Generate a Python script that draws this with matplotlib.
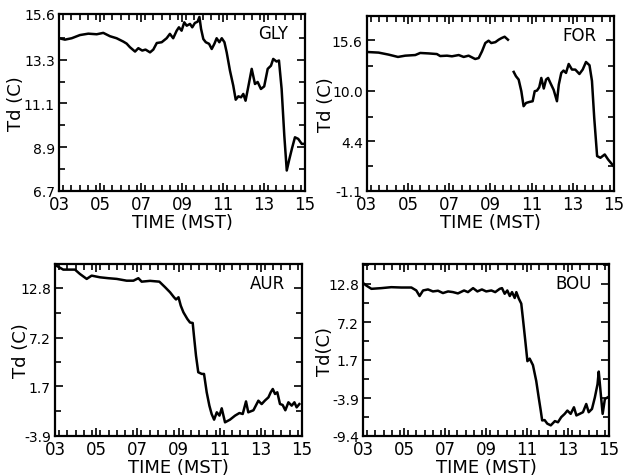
import matplotlib
matplotlib.use('Agg')
import matplotlib.pyplot as plt
import numpy as np
from matplotlib.ticker import FixedLocator, MultipleLocator

# dew point traces, hour (MST) vs Td (C)
gly_hour = [3.0, 3.29, 3.62, 4.02, 4.43, 4.84, 5.16, 5.49, 5.81, 6.14, 6.30, 6.46, 6.71, 6.87,
            7.06, 7.22, 7.44, 7.60, 7.77, 8.01, 8.25, 8.41, 8.57, 8.74, 8.85, 8.98, 9.11, 9.23,
            9.39, 9.50, 9.63, 9.76, 9.85, 9.93, 10.04, 10.16, 10.32, 10.45, 10.58, 10.69, 10.82,
            10.94, 11.07, 11.18, 11.34, 11.50, 11.62, 11.75, 11.88, 11.99, 12.10, 12.23, 12.40,
            12.56, 12.69, 12.85, 13.01, 13.18, 13.34, 13.45, 13.61, 13.73, 13.86, 13.99, 14.11,
            14.22, 14.36, 14.51, 14.67, 14.84, 14.96]
gly_td = [14.38, 14.31, 14.38, 14.54, 14.61, 14.58, 14.65, 14.48, 14.38, 14.21, 14.11, 13.93,
          13.71, 13.88, 13.76, 13.81, 13.67, 13.81, 14.14, 14.18, 14.38, 14.60, 14.38, 14.76,
          14.93, 14.76, 15.18, 15.01, 15.10, 14.93, 15.15, 15.21, 15.45, 14.85, 14.34, 14.18,
          14.10, 13.84, 14.10, 14.38, 14.18, 14.38, 14.18, 13.67, 12.75, 12.00, 11.29, 11.46,
          11.41, 11.58, 11.24, 11.92, 12.84, 12.08, 12.18, 11.83, 11.96, 12.84, 13.00, 13.34,
          13.21, 13.26, 11.83, 9.49, 7.73, 8.23, 8.82, 9.40, 9.32, 9.07, 9.07]

for_hour_a = [3.0, 3.57, 4.05, 4.51, 4.86, 5.35, 5.59, 6.00, 6.40, 6.56, 6.89, 7.13, 7.46, 7.70,
              7.94, 8.26, 8.43, 8.59, 8.75, 8.91, 9.04, 9.24, 9.40, 9.54, 9.69, 9.85]
for_td_a = [14.31, 14.24, 14.02, 13.76, 13.90, 13.97, 14.20, 14.15, 14.08, 13.86, 13.90, 13.83,
            13.97, 13.76, 13.90, 13.53, 13.64, 14.38, 15.30, 15.56, 15.30, 15.40, 15.67, 15.85,
            16.00, 15.67]
for_hour_b = [10.13, 10.24, 10.37, 10.50, 10.61, 10.73, 10.89, 11.05, 11.15, 11.26, 11.37, 11.47,
              11.59, 11.70, 11.80, 11.91, 12.07, 12.23, 12.32, 12.44, 12.55, 12.67, 12.80, 12.96,
              13.12, 13.32, 13.48, 13.64, 13.81, 13.93, 14.04, 14.18, 14.34, 14.55, 14.71, 15.0]
for_td_b = [12.10, 11.62, 11.25, 9.96, 8.30, 8.66, 8.77, 8.85, 9.96, 10.03, 10.40, 11.43, 10.26,
            11.25, 11.43, 10.88, 10.11, 8.85, 10.70, 11.99, 12.25, 11.99, 12.98, 12.36, 12.36,
            11.87, 12.36, 13.20, 12.84, 11.10, 7.00, 2.77, 2.58, 2.95, 2.40, 1.60]

aur_hour = [3.0, 3.40, 3.97, 4.21, 4.54, 4.78, 5.19, 5.59, 6.00, 6.48, 6.81, 7.05, 7.21, 7.62,
            8.07, 8.35, 8.59, 8.78, 8.88, 9.00, 9.11, 9.24, 9.43, 9.56, 9.69, 9.75, 9.85, 9.96,
            10.13, 10.24, 10.37, 10.50, 10.61, 10.73, 10.86, 10.99, 11.10, 11.26, 11.50, 11.75,
            11.96, 12.12, 12.28, 12.39, 12.64, 12.88, 13.04, 13.20, 13.37, 13.48, 13.58, 13.69,
            13.80, 13.93, 14.06, 14.19, 14.34, 14.50, 14.63, 14.74, 14.87]
aur_td = [15.4, 14.87, 14.87, 14.38, 13.82, 14.19, 14.00, 13.90, 13.82, 13.62, 13.62, 13.90,
          13.51, 13.60, 13.51, 12.88, 12.31, 11.75, 11.50, 11.75, 10.80, 10.05, 9.30, 8.90, 8.85,
          7.42, 5.16, 3.29, 3.10, 3.10, 1.03, -0.48, -1.42, -2.06, -1.23, -1.60, -0.78, -2.36,
          -2.06, -1.60, -1.31, -1.42, 0.00, -1.23, -1.00, 0.08, -0.30, 0.10, 0.46, 1.03, 1.40,
          0.84, 1.03, -0.29, -0.40, -1.00, -0.10, -0.48, -0.10, -0.67, -0.30]

bou_hour = [3.0, 3.16, 3.41, 3.89, 4.38, 4.87, 5.36, 5.60, 5.76, 5.93, 6.17, 6.41, 6.66, 6.90,
            7.15, 7.39, 7.63, 7.93, 8.12, 8.37, 8.58, 8.80, 9.01, 9.26, 9.45, 9.67, 9.78, 9.91,
            10.04, 10.16, 10.27, 10.40, 10.48, 10.60, 10.72, 10.80, 10.92, 11.02, 11.13, 11.29,
            11.45, 11.57, 11.67, 11.74, 11.86, 11.99, 12.16, 12.36, 12.51, 12.67, 12.84, 12.97,
            13.13, 13.29, 13.41, 13.57, 13.73, 13.89, 14.01, 14.17, 14.31, 14.44, 14.50, 14.60,
            14.69, 14.80, 14.93]
bou_td = [12.94, 12.56, 12.08, 12.18, 12.32, 12.27, 12.27, 11.84, 11.03, 11.84, 11.99, 11.70,
          11.80, 11.46, 11.70, 11.60, 11.41, 11.84, 11.60, 12.18, 11.70, 11.99, 11.70, 11.84,
          11.60, 12.08, 12.18, 11.36, 11.84, 11.03, 11.60, 10.74, 11.60, 10.65, 9.92, 7.76, 4.40,
          1.52, 1.89, 0.94, -1.36, -3.77, -5.69, -7.13, -7.08, -7.60, -7.85, -7.23, -7.40, -6.65,
          -6.17, -5.69, -6.17, -5.21, -6.40, -6.17, -5.93, -4.73, -5.93, -5.45, -3.77, -1.85,
          0.00, -3.30, -6.17, -3.99, -3.77]

time_ticks = [3, 5, 7, 9, 11, 13, 15]
time_labels = ['03', '05', '07', '09', '11', '13', '15']

gly_yticks = [6.7, 8.9, 11.1, 13.3, 15.6]
for_yticks = [-1.1, 4.4, 10.0, 15.6]
aur_yticks = [-3.9, 1.7, 7.2, 12.8]
bou_yticks = [-9.4, -3.9, 1.7, 7.2, 12.8]


def style_axes(ax, yticks, ylim, name, ylabel, label_x):
    ax.set_xlim(3, 15)
    ax.set_ylim(*ylim)
    ax.set_xticks(time_ticks)
    ax.set_xticklabels(time_labels, fontsize=12)
    ax.xaxis.set_minor_locator(MultipleLocator(0.4))
    ax.set_yticks(yticks)
    ax.set_yticklabels(['%.1f' % v for v in yticks], fontsize=10)
    step = yticks[1] - yticks[0]
    minors = [v + step / 2 for v in yticks] + [yticks[0] - step / 2]
    ax.yaxis.set_minor_locator(FixedLocator(minors))
    ax.tick_params(which='both', direction='in', top=True, right=True, width=1.2)
    ax.tick_params(which='major', length=6, pad=3)
    ax.tick_params(which='minor', length=4)
    for sp in ax.spines.values():
        sp.set_linewidth(1.6)
    ax.set_xlabel('TIME (MST)', fontsize=13, labelpad=0)
    ax.set_ylabel(ylabel, fontsize=13)
    ax.yaxis.set_label_coords(label_x, 0.5)
    ax.text(0.93, 0.89, name, transform=ax.transAxes, ha='right', va='center',
            fontsize=12, fontweight='medium')


fig = plt.figure(figsize=(6.25, 4.77), dpi=100)

ax1 = fig.add_axes([0.0944, 0.5975, 0.3936, 0.3711])
ax1.plot(gly_hour, gly_td, color='black', lw=1.8)
style_axes(ax1, gly_yticks, (6.7, 15.6), 'GLY', 'Td (C)', -0.14)

ax2 = fig.add_axes([0.587, 0.5975, 0.3954, 0.3669])
ax2.plot(for_hour_a, for_td_a, color='black', lw=1.8)
ax2.plot(for_hour_b, for_td_b, color='black', lw=1.8)
style_axes(ax2, for_yticks, (-1.1, 18.3), 'FOR', 'Td (C)', -0.13)

ax3 = fig.add_axes([0.088, 0.0839, 0.3952, 0.3605])
ax3.plot(aur_hour, aur_td, color='black', lw=1.8)
style_axes(ax3, aur_yticks, (-3.9, 15.5), 'AUR', 'Td (C)', -0.10)

ax4 = fig.add_axes([0.5808, 0.0839, 0.3936, 0.3605])
ax4.plot(bou_hour, bou_td, color='black', lw=1.8)
style_axes(ax4, bou_yticks, (-9.4, 15.7), 'BOU', 'Td(C)', -0.118)

fig.savefig('out.png', dpi=100)
